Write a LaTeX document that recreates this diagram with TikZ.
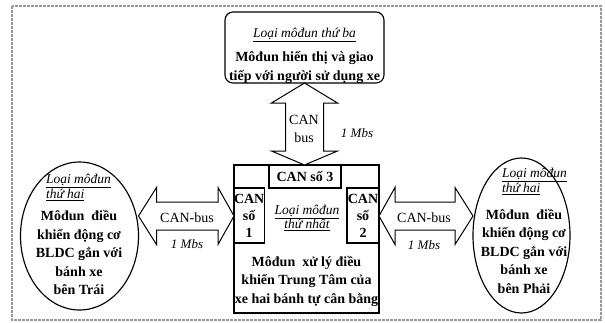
\documentclass[tikz,border=0pt]{standalone}
\usepackage{fontspec}
\setmainfont{Liberation Serif}
\usetikzlibrary{calc,shapes.geometric}

% underlined italic module heading, one line at a time
\newcommand{\modhead}[1]{\underline{#1}}

\begin{document}
\begin{tikzpicture}[x=1pt,y=-1pt,line width=1.15pt,
  every node/.style={inner sep=0pt,outer sep=0pt},
  bodytext/.style={font=\fontsize{14}{18.5}\selectfont\bfseries,align=center},
  cantext/.style={font=\fontsize{14}{17}\selectfont\bfseries,align=center},
  headtext/.style={font=\fontsize{13.5}{14.5}\selectfont\itshape},
  bustext/.style={font=\fontsize{14}{18}\selectfont,align=center},
  ratetext/.style={font=\fontsize{13}{16}\selectfont\itshape},
  busarrow/.style={draw,fill=white,line width=1pt,line join=miter},
  frame/.style={draw=gray!80,line width=2.2pt,dash pattern=on 3pt off 1pt}]

\useasboundingbox (0,0) rectangle (605,322);
\draw[frame] (12,6) rectangle (601,320);

% bus level shared by the two side links
\coordinate (busy) at (0,216);

% ---- module outlines ----
\node[draw,rounded corners=8pt,minimum width=159pt,minimum height=71pt] (T) at (304.5,47.5) {};
\node[draw,minimum width=145pt,minimum height=148pt] (C) at (306.5,239) {};
\node[draw,ellipse,minimum width=118pt,minimum height=148pt] (L) at (79.5,236) {};
\node[draw,ellipse,minimum width=97pt,minimum height=155pt] (R) at (521.5,235.5) {};

% ---- CAN ports of the central module ----
\node[draw,cantext,minimum width=72pt,minimum height=23pt,anchor=north] (C3) at (305,165) {CAN số 3};
\node[draw,cantext,minimum width=30pt,minimum height=55pt,anchor=north west] (C1) at (C.north west |- C3.south) {CAN\\số\\1};
\node[draw,cantext,minimum width=32pt,minimum height=55pt,anchor=north east] (C2) at (C.north east |- C3.south) {CAN\\số\\2};

% ---- CAN bus links (hollow double arrows) ----
% vertical link: top module to central module
\draw[busarrow] let \p1=(T.south), \p2=(C.north -| T.south) in
  (\x1,\y1) -- (\x1+33pt,\y1-20pt) -- (\x1+19pt,\y1-20pt) -- (\x1+19pt,\y2+14pt)
  -- (\x1+33pt,\y2+14pt) -- (\x2,\y2) -- (\x1-33pt,\y2+14pt) -- (\x1-19pt,\y2+14pt)
  -- (\x1-19pt,\y1-20pt) -- (\x1-33pt,\y1-20pt) -- cycle;
% left link
\draw[busarrow] let \p1=(L.east |- busy), \p2=(C.west |- busy) in
  (\x1,\y1) -- (\x1+18pt,\y1+28.5pt) -- (\x1+18pt,\y1+14pt) -- (\x2-16pt,\y1+14pt)
  -- (\x2-16pt,\y1+28.5pt) -- (\x2,\y2) -- (\x2-16pt,\y1-28.5pt) -- (\x2-16pt,\y1-14pt)
  -- (\x1+18pt,\y1-14pt) -- (\x1+18pt,\y1-28.5pt) -- cycle;
% right link
\draw[busarrow] let \p1=(C.east |- busy), \p2=(R.west |- busy) in
  (\x1,\y1) -- (\x1+16pt,\y1+28.5pt) -- (\x1+16pt,\y1+14pt) -- (\x2-18pt,\y1+14pt)
  -- (\x2-18pt,\y1+28.5pt) -- (\x2,\y2) -- (\x2-18pt,\y1-28.5pt) -- (\x2-18pt,\y1-14pt)
  -- (\x1+16pt,\y1-14pt) -- (\x1+16pt,\y1-28.5pt) -- cycle;

% ---- bus labels ----
\node[bustext] (vbus) at (304,129) {CAN\\bus};
\node[ratetext] (vrate) at (357,133) {1 Mbs};
\node[bustext] (lbus) at (187,218) {CAN-bus};
\node[ratetext] (lrate) at (187,244) {1 Mbs};
\node[bustext] (rbus) at (424,218) {CAN-bus};
\node[ratetext] (rrate) at (424,245) {1 Mbs};

% ---- top module text ----
\node[headtext] (Th) at (304.5,35) {\modhead{Loại môđun thứ ba}};
\node[bodytext] (Tb) at (304.5,67.5) {Môđun hiển thị và giao\\tiếp với người sử dụng xe};

% ---- central module text ----
\node[headtext,align=center] (Ch) at (307,218) {\modhead{Loại môđun}\\\modhead{thứ nhất}};
\node[bodytext] (Cb) at (306.5,281) {Môđun~ xử lý điều\\khiển Trung Tâm của\\xe hai bánh tự cân bằng};

% ---- left module text ----
\node[headtext,align=left,anchor=west] (Lh) at (46,187.5) {\modhead{Loại môđun}\\\modhead{thứ hai}};
\node[bodytext] (Lb) at (79,252.5) {Môđun~ điều\\khiển động cơ\\BLDC gắn với\\bánh xe\\bên Trái};

% ---- right module text ----
\node[headtext,align=left,anchor=west] (Rh) at (502,181.5) {\modhead{Loại môđun}\\\modhead{thứ hai}};
\node[bodytext] (Rb) at (524,251) {Môđun~ điều\\khiển động cơ\\BLDC gắn với\\bánh xe\\bên Phải};
\end{tikzpicture}
\end{document}
